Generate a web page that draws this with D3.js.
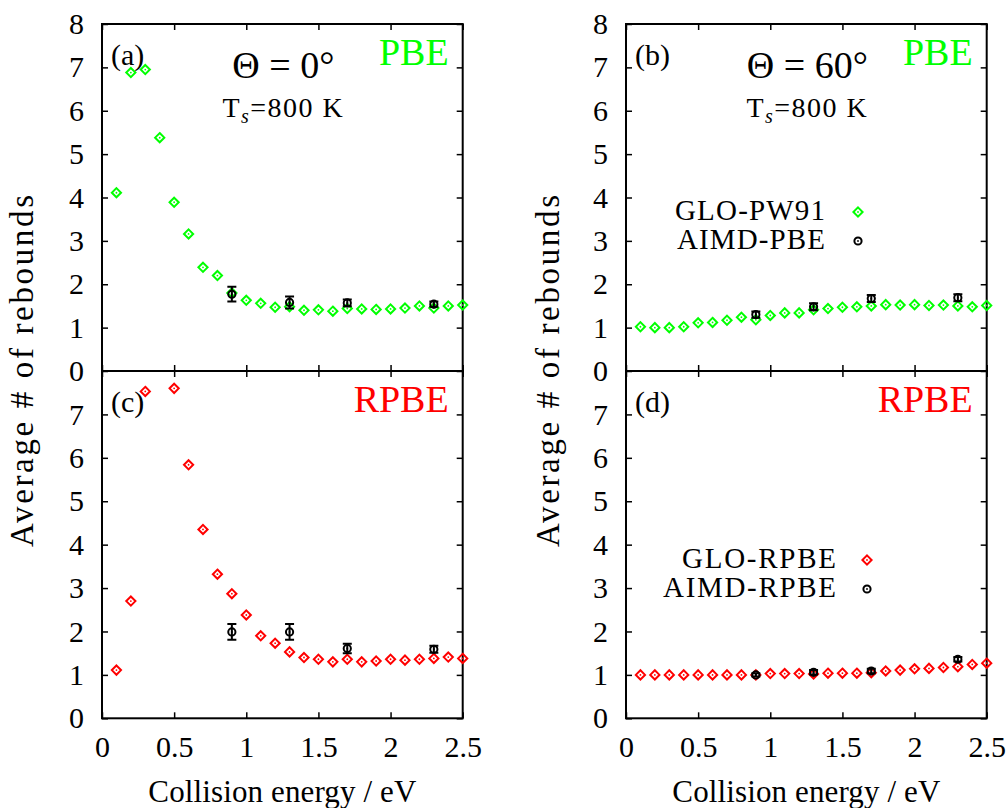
<!DOCTYPE html>
<html>
<head>
<meta charset="utf-8">
<script src="https://cdn.jsdelivr.net/npm/d3@7"></script>
<style>
  body { margin: 0; background: #fff; }
</style>
</head>
<body>
<div id="graph"></div>
<script>
var width = 1007, height = 808
var serif = '"Liberation Serif", serif'

// collision energies (eV)
var energies = [0.1,0.2,0.3,0.4,0.5,0.6,0.7,0.8,0.9,1.0,1.1,1.2,1.3,1.4,1.5,1.6,1.7,1.8,1.9,2.0,2.1,2.2,2.3,2.4,2.5]
var aimdEnergies = [0.9, 1.3, 1.7, 2.3]

// GLO results
var gloPbe0   = [4.11,6.88,6.95,5.38,3.89,3.16,2.39,2.20,1.80,1.63,1.56,1.47,1.48,1.40,1.41,1.38,1.44,1.43,1.42,1.43,1.45,1.50,1.45,1.50,1.52]
var gloRpbe0  = [1.11,2.70,7.53,null,7.60,5.84,4.35,3.32,2.87,2.38,1.90,1.73,1.53,1.40,1.36,1.30,1.36,1.30,1.32,1.36,1.34,1.36,1.38,1.41,1.38]
var gloPbe60  = [1.02,1.00,1.00,1.02,1.11,1.12,1.17,1.24,1.18,1.28,1.34,1.34,1.41,1.44,1.47,1.48,1.50,1.53,1.52,1.53,1.51,1.52,1.50,1.48,1.51]
var gloRpbe60 = [1.00,1.00,1.00,1.00,1.00,1.00,1.00,1.00,1.00,1.03,1.03,1.03,1.02,1.04,1.04,1.04,1.05,1.09,1.11,1.14,1.15,1.17,1.19,1.24,1.27]

// AIMD results with error bars
var aimdPbe0      = [1.77, 1.58, 1.57, 1.54]
var aimdPbe0Err   = [0.17, 0.14, 0.08, 0.06]
var aimdRpbe0     = [1.99, 1.99, 1.61, 1.59]
var aimdRpbe0Err  = [0.18, 0.18, 0.11, 0.08]
var aimdPbe60     = [1.30, 1.48, 1.67, 1.69]
var aimdPbe60Err  = [0.07, 0.08, 0.08, 0.08]
var aimdRpbe60    = [1.00, 1.06, 1.09, 1.36]
var aimdRpbe60Err = [0.04, 0.05, 0.05, 0.05]

var xTicks = [0, 0.5, 1, 1.5, 2, 2.5]
var yTicksTop = [0,1,2,3,4,5,6,7,8]
var yTicksBottom = [0,1,2,3,4,5,6,7]

var green = '#00ff00', red = '#ff0000'

var colLeft = [102, 462.7], colRight = [626, 986.7]
var rowTop = [371, 24], rowBottom = [718.3, 371]

var panels = [
  {col: colLeft,  row: rowTop,    glo: gloPbe0,   aimd: aimdPbe0,   err: aimdPbe0Err,   color: green, tag: '(a)', func: 'PBE',  yTicks: yTicksTop,    theta: '0°'},
  {col: colRight, row: rowTop,    glo: gloPbe60,  aimd: aimdPbe60,  err: aimdPbe60Err,  color: green, tag: '(b)', func: 'PBE',  yTicks: yTicksTop,    theta: '60°',
    legend: ['GLO-PW91', 'AIMD-PBE'], legW: [150, 148]},
  {col: colLeft,  row: rowBottom, glo: gloRpbe0,  aimd: aimdRpbe0,  err: aimdRpbe0Err,  color: red,   tag: '(c)', func: 'RPBE', yTicks: yTicksBottom, xLabels: true},
  {col: colRight, row: rowBottom, glo: gloRpbe60, aimd: aimdRpbe60, err: aimdRpbe60Err, color: red,   tag: '(d)', func: 'RPBE', yTicks: yTicksBottom, xLabels: true,
    legend: ['GLO-RPBE', 'AIMD-RPBE'], legW: [154, 173]}
]

var svg = d3.select('#graph').append('svg')
    .attr('width', width).attr('height', height)

function diamond(g, color){
  g.append('path').attr('d', 'M0,-4.6L4.6,0L0,4.6L-4.6,0Z')
      .attr('fill', 'none').attr('stroke', color).attr('stroke-width', 2)
  g.append('circle').attr('r', 0.9).attr('fill', color)
}
function ring(g){
  g.append('circle').attr('r', 3.6)
      .attr('fill', 'none').attr('stroke', '#000').attr('stroke-width', 2)
  g.append('circle').attr('r', 0.9).attr('fill', '#000')
}

panels.forEach(function(p){
  var x = d3.scaleLinear().domain([0, 2.5]).range(p.col)
  var y = d3.scaleLinear().domain([0, 8]).range(p.row)
  var g = svg.append('g')

  // ticks, inward on all four sides
  g.append('g').attr('transform', 'translate(0,' + p.row[0] + ')')
      .call(d3.axisBottom(x).tickValues(xTicks).tickSize(-6).tickPadding(17)
        .tickFormat(p.xLabels ? d3.format('') : ''))
  g.append('g').attr('transform', 'translate(0,' + p.row[1] + ')')
      .call(d3.axisTop(x).tickValues(xTicks).tickSize(-6).tickFormat(''))
  g.append('g').attr('transform', 'translate(' + p.col[0] + ',0)')
      .call(d3.axisLeft(y).tickValues(p.yTicks).tickSize(-6).tickPadding(18).tickFormat(d3.format('d')))
  g.append('g').attr('transform', 'translate(' + p.col[1] + ',0)')
      .call(d3.axisRight(y).tickValues(p.yTicks).tickSize(-6).tickFormat(''))

  g.selectAll('.domain').remove()
  g.selectAll('.tick line').attr('stroke', '#000').attr('stroke-width', 1.5)
  g.selectAll('.tick text').attr('fill', '#000')
      .style('font-family', serif).style('font-size', '30px')

  g.append('rect')
      .attr('x', p.col[0]).attr('y', p.row[1])
      .attr('width', p.col[1] - p.col[0]).attr('height', p.row[0] - p.row[1])
      .attr('fill', 'none').attr('stroke', '#000').attr('stroke-width', 2)

  // GLO points
  var pts = energies.map(function(e, i){ return [e, p.glo[i]] })
      .filter(function(d){ return d[1] != null })
  g.selectAll('g.glo').data(pts).enter().append('g').attr('class', 'glo')
      .attr('transform', function(d){ return 'translate(' + x(d[0]) + ',' + y(d[1]) + ')' })
      .each(function(){ diamond(d3.select(this), p.color) })

  // AIMD points with error bars
  var apts = aimdEnergies.map(function(e, i){ return [e, p.aimd[i], p.err[i]] })
  var ag = g.selectAll('g.aimd').data(apts).enter().append('g').attr('class', 'aimd')
  ag.append('path')
      .attr('d', function(d){
        var cx = x(d[0]), lo = y(d[1] - d[2]), hi = y(d[1] + d[2])
        return 'M' + cx + ',' + lo + 'V' + hi +
          'M' + (cx - 4.5) + ',' + lo + 'H' + (cx + 4.5) +
          'M' + (cx - 4.5) + ',' + hi + 'H' + (cx + 4.5)
      })
      .attr('stroke', '#000').attr('stroke-width', 2).attr('fill', 'none')
  ag.append('g')
      .attr('transform', function(d){ return 'translate(' + x(d[0]) + ',' + y(d[1]) + ')' })
      .each(function(){ ring(d3.select(this)) })

  // labels
  var top = p.row[1]
  g.append('text').attr('x', p.col[0] + 9).attr('y', top + 41)
      .style('font-family', serif).style('font-size', '30px').text(p.tag)
  g.append('text').attr('x', p.col[1] - 14).attr('y', top + 41)
      .style('font-family', serif).style('font-size', '38px')
      .attr('text-anchor', 'end').attr('fill', p.color).text(p.func)

  if (p.theta){
    var cx = (p.col[0] + p.col[1]) / 2
    g.append('text').attr('x', cx + 1).attr('y', top + 54)
        .style('font-family', serif).style('font-size', '38px')
        .attr('text-anchor', 'middle').text('Θ = ' + p.theta)
    var ts = g.append('text').attr('x', cx + 1).attr('y', top + 93)
        .style('font-family', serif).style('font-size', '28px')
        .attr('text-anchor', 'middle').attr('letter-spacing', 1.5)
    ts.append('tspan').text('T')
    ts.append('tspan').style('font-size', '20px').attr('font-style', 'italic').attr('dy', 6).text('s')
    ts.append('tspan').attr('dy', -6).text('=800 K')
  }

  if (p.legend){
    var lx = p.col[0] + (p.func == 'PBE' ? 199 : 210)
    var sx = p.col[0] + (p.func == 'PBE' ? 232 : 241)
    var ly = top + (p.func == 'PBE' ? 196 : 197)
    p.legend.forEach(function(t, i){
      g.append('text').attr('x', lx).attr('y', ly + 29 * i)
          .style('font-family', serif).style('font-size', '29px')
          .attr('text-anchor', 'end').attr('textLength', p.legW[i]).attr('lengthAdjust', 'spacing')
          .text(t)
    })
    diamond(g.append('g').attr('transform', 'translate(' + sx + ',' + (ly - 8) + ')'), p.color)
    ring(g.append('g').attr('transform', 'translate(' + sx + ',' + (ly + 21) + ')'))
  }
})

// axis titles
;[25, 551].forEach(function(tx){
  svg.append('text').attr('transform', 'translate(' + tx + ',371)rotate(-90)')
      .attr('text-anchor', 'middle').attr('dominant-baseline', 'middle')
      .style('font-family', serif).style('font-size', '33px')
      .attr('textLength', 352).attr('lengthAdjust', 'spacing')
      .text('Average # of rebounds')
})
;[colLeft, colRight].forEach(function(c){
  svg.append('text').attr('x', (c[0] + c[1]) / 2).attr('y', 802)
      .attr('text-anchor', 'middle')
      .style('font-family', serif).style('font-size', '31px')
      .attr('textLength', 268).attr('lengthAdjust', 'spacing')
      .text('Collision energy / eV')
})
</script>
</body>
</html>
